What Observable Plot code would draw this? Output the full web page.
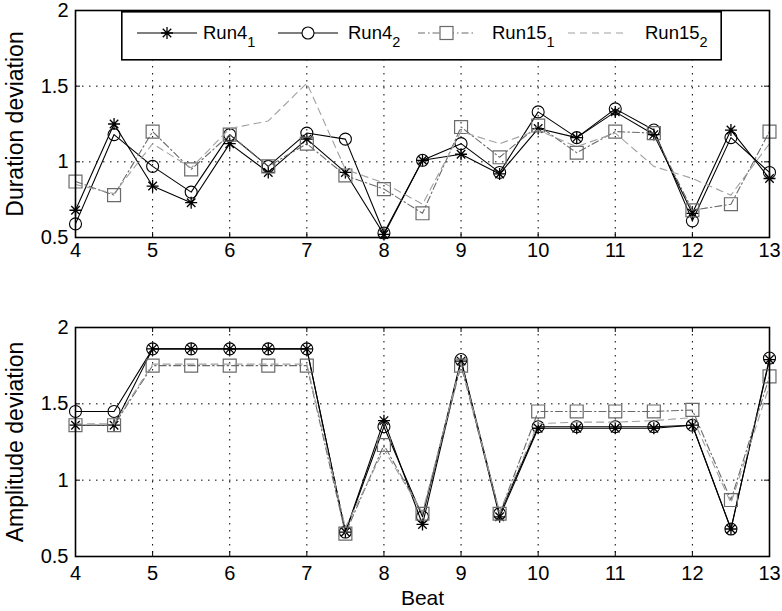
<!DOCTYPE html>
<html><head><meta charset="utf-8">
<script src="https://cdn.jsdelivr.net/npm/d3@7"></script>
<script src="https://cdn.jsdelivr.net/npm/@observablehq/plot@0.6"></script>
<style>
body{margin:0;background:#fff;}
#wrap{position:relative;width:782px;height:611px;font-family:"Liberation Sans",Arial,sans-serif;background:#fff;}
#wrap > svg{display:block;}
#legend{position:absolute;left:121px;top:11px;}
</style></head>
<body><div id="wrap"></div>
<script>
// ---- data ----
const beats = [4,4.5,5,5.5,6,6.5,7,7.5,8,8.5,9,9.5,10,10.5,11,11.5,12,12.5,13];
const xTicks = [4,5,6,7,8,9,10,11,12,13];
const yTicks = [0.5,1,1.5,2];
const seriesNames = ["Run4_1","Run4_2","Run15_1","Run15_2"];

const durRun4_1  = [0.68,1.25,0.84,0.73,1.12,0.93,1.15,0.93,0.52,1.01,1.05,0.92,1.22,1.16,1.33,1.18,0.66,1.21,0.89];
const durRun4_2  = [0.59,1.18,0.97,0.80,1.18,0.97,1.19,1.15,0.53,1.01,1.12,0.93,1.33,1.16,1.35,1.21,0.61,1.16,0.93];
const durRun15_1 = [0.87,0.78,1.20,0.95,1.18,0.97,1.12,0.91,0.82,0.66,1.23,1.03,1.24,1.06,1.20,1.19,0.68,0.72,1.20];
const durRun15_2 = [0.85,0.79,1.12,0.96,1.22,1.27,1.52,0.95,0.86,0.72,1.20,1.12,1.21,1.10,1.19,0.97,0.89,0.78,1.12];

const ampRun4_1  = [1.36,1.36,1.86,1.86,1.86,1.86,1.86,0.66,1.39,0.71,1.78,0.76,1.34,1.34,1.34,1.34,1.36,0.68,1.79];
const ampRun4_2  = [1.45,1.45,1.86,1.86,1.86,1.86,1.86,0.66,1.35,0.76,1.79,0.78,1.35,1.35,1.35,1.35,1.36,0.68,1.80];
const ampRun15_1 = [1.36,1.36,1.75,1.75,1.75,1.75,1.75,0.65,1.23,0.78,1.75,0.78,1.45,1.45,1.45,1.45,1.46,0.87,1.68];
const ampRun15_2 = [1.37,1.37,1.76,1.76,1.76,1.76,1.76,0.69,1.20,0.79,1.77,0.79,1.37,1.38,1.38,1.39,1.41,0.85,1.62];

// ---- styles ----
const styles = {
  Run4_1:  {stroke:"#000", dash:null, symbol:"ast", mstroke:"#000"},
  Run4_2:  {stroke:"#000", dash:null, symbol:"circle", mstroke:"#000"},
  Run15_1: {stroke:"#6a6a6a", dash:"7,3,1.5,3", symbol:"square", mstroke:"#6a6a6a"},
  Run15_2: {stroke:"#a0a0a0", dash:"7,5", symbol:null, mstroke:null}
};
const asterisk8 = {
  draw(ctx, size) {
    const r = Math.sqrt(size / Math.PI);
    const d = r * Math.SQRT1_2;
    ctx.moveTo(-r, 0); ctx.lineTo(r, 0);
    ctx.moveTo(0, -r); ctx.lineTo(0, r);
    ctx.moveTo(-d, -d); ctx.lineTo(d, d);
    ctx.moveTo(-d, d); ctx.lineTo(d, -d);
  }
};
const FONT = '"Liberation Sans", Arial, sans-serif';

function panel(arrays, ylabel, cfg) {
  const W = 782, ml = 75, mr = 13;
  const innerW = W - ml - mr, innerH = cfg.height - cfg.mt - cfg.mb;
  const marks = [
    Plot.gridX(xTicks, {stroke:"#000", strokeOpacity:1, strokeWidth:1, strokeDasharray:"1.5,5.5"}),
    Plot.gridY(yTicks, {stroke:"#000", strokeOpacity:1, strokeWidth:1, strokeDasharray:"1.5,5.5"})
  ];
  seriesNames.forEach((name, i) => {
    const rows = beats.map((b, j) => ({beat:b, value:arrays[i][j]}));
    const s = styles[name];
    marks.push(Plot.line(rows, {x:"beat", y:"value", stroke:s.stroke, strokeWidth:1.1, strokeDasharray:s.dash}));
    if (s.symbol === "ast") marks.push(Plot.dot(rows, {x:"beat", y:"value", symbol:asterisk8, r:6, stroke:s.mstroke, strokeWidth:1.3, fill:"none"}));
    if (s.symbol === "circle") marks.push(Plot.dot(rows, {x:"beat", y:"value", symbol:"circle", r:6, stroke:s.mstroke, strokeWidth:1.1, fill:"none"}));
    if (s.symbol === "square") marks.push(Plot.dot(rows, {x:"beat", y:"value", symbol:"square", r:7.3, stroke:s.mstroke, strokeWidth:1.2, fill:"none"}));
  });
  marks.push(
    Plot.frame({stroke:"#000", strokeWidth:1.6}),
    Plot.tickX(xTicks, {x:d=>d, stroke:"#000", insetTop: innerH - 5}),
    Plot.tickX(xTicks, {x:d=>d, stroke:"#000", insetBottom: innerH - 5}),
    Plot.tickY(yTicks, {y:d=>d, stroke:"#000", insetRight: innerW - 5}),
    Plot.tickY(yTicks, {y:d=>d, stroke:"#000", insetLeft: innerW - 5}),
    Plot.axisX({ticks:xTicks, tickSize:0, tickPadding:cfg.xpad, tickFormat:d=>String(d), label:null, fontSize:20, fill:"#000"}),
    Plot.axisY({ticks:yTicks, tickSize:0, tickPadding:7, tickFormat:d=>String(d), label:null, fontSize:20, fill:"#000"}),
    Plot.text([ylabel], {text:d=>d, frameAnchor:"left", textAnchor:"middle", lineAnchor:"middle", dx:-60, rotate:-90, fontSize:23, fill:"#000"})
  );
  if (cfg.xlabel) marks.push(Plot.text([cfg.xlabel], {text:d=>d, frameAnchor:"bottom", textAnchor:"middle", lineAnchor:"middle", dy:42, fontSize:21, fill:"#000"}));
  return Plot.plot({
    width: W, height: cfg.height,
    marginLeft: ml, marginRight: mr, marginTop: cfg.mt, marginBottom: cfg.mb,
    x: {domain:[4,13], label:null},
    y: {domain:[0.5,2], label:null},
    style: {fontFamily: FONT, background:"#fff", color:"#000", overflow:"visible"},
    marks
  });
}

const wrap = document.getElementById("wrap");
wrap.appendChild(panel([durRun4_1,durRun4_2,durRun15_1,durRun15_2], "Duration deviation", {height:280, mt:10, mb:43, xpad:5}));
wrap.appendChild(panel([ampRun4_1,ampRun4_2,ampRun15_1,ampRun15_2], "Amplitude deviation", {height:331, mt:47, mb:55, xpad:9, xlabel:"Beat"}));

// ---- legend ----
const legendItems = [
  {name:"Run4", sub:"1", key:"Run4_1", x0:16, x1:76, tx:82},
  {name:"Run4", sub:"2", key:"Run4_2", x0:157, x1:217, tx:227},
  {name:"Run15", sub:"1", key:"Run15_1", x0:297, x1:354, tx:371},
  {name:"Run15", sub:"2", key:"Run15_2", x0:447, x1:504, tx:524}
];
const NS = "http://www.w3.org/2000/svg";
const lg = document.createElementNS(NS, "svg");
lg.setAttribute("id","legend"); lg.setAttribute("width", 601); lg.setAttribute("height", 50);
lg.style.fontFamily = FONT;
let html = `<rect x="0.8" y="0.8" width="599.4" height="48" fill="#fff" stroke="#000" stroke-width="1.6"/>`;
const ly = 22;
legendItems.forEach(it => {
  const s = styles[it.key];
  const cx = (it.x0 + it.x1) / 2;
  html += `<line x1="${it.x0}" x2="${it.x1}" y1="${ly}" y2="${ly}" stroke="${s.stroke}" stroke-width="1.1" ${s.dash ? `stroke-dasharray="${s.dash}"` : ""}/>`;
  if (s.symbol === "ast") {
    const r = 6, d = r * Math.SQRT1_2;
    html += `<path d="M${cx-r},${ly}H${cx+r}M${cx},${ly-r}V${ly+r}M${cx-d},${ly-d}L${cx+d},${ly+d}M${cx-d},${ly+d}L${cx+d},${ly-d}" stroke="#000" stroke-width="1.3" fill="none"/>`;
  } else if (s.symbol === "circle") {
    html += `<circle cx="${cx}" cy="${ly}" r="6" fill="#fff" stroke="#000" stroke-width="1.1"/>`;
  } else if (s.symbol === "square") {
    html += `<rect x="${cx-6.5}" y="${ly-6.5}" width="13" height="13" fill="#fff" stroke="${s.mstroke}" stroke-width="1.2"/>`;
  }
  html += `<text x="${it.tx}" y="28" font-size="18.5" fill="#000">${it.name}<tspan font-size="14.5" dy="8">${it.sub}</tspan></text>`;
});
lg.innerHTML = html;
wrap.appendChild(lg);
</script>
</body></html>
